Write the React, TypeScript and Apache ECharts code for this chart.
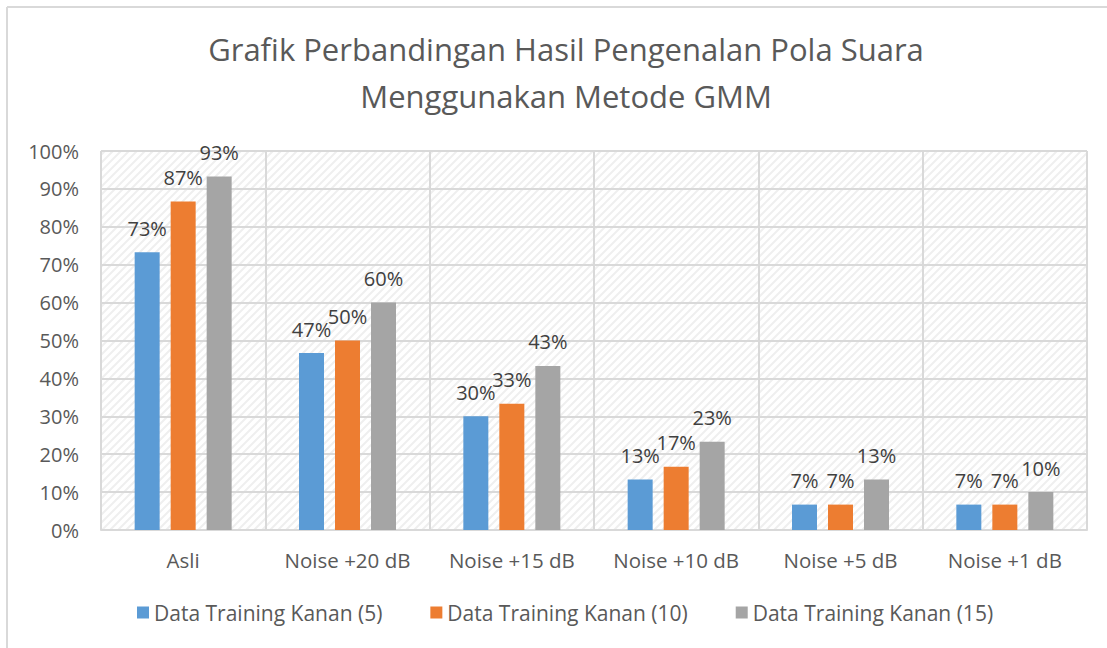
import React, { useEffect, useRef } from "react";
import * as echarts from "echarts";

const categories = ["Asli", "Noise +20 dB", "Noise +15 dB", "Noise +10 dB", "Noise +5 dB", "Noise +1 dB"];
const seriesNames = ["Data Training Kanan (5)", "Data Training Kanan (10)", "Data Training Kanan (15)"];
const kanan5 = [73.3, 46.7, 30, 13.3, 6.7, 6.7];
const kanan10 = [86.7, 50, 33.3, 16.7, 6.7, 6.7];
const kanan15 = [93.3, 60, 43.3, 23.3, 13.3, 10];
const colors = ["#5B9BD5", "#ED7D31", "#A5A5A5"];
const titleText = "Grafik Perbandingan Hasil Pengenalan Pola Suara\nMenggunakan Metode GMM";

function makePattern(): HTMLCanvasElement {
  const c = document.createElement("canvas");
  c.width = 8;
  c.height = 8;
  const ctx = c.getContext("2d")!;
  ctx.fillStyle = "#ffffff";
  ctx.fillRect(0, 0, 8, 8);
  ctx.strokeStyle = "#efefef";
  ctx.lineWidth = 2;
  ctx.beginPath();
  ctx.moveTo(0, 8);
  ctx.lineTo(8, 0);
  ctx.moveTo(-2, 2);
  ctx.lineTo(2, -2);
  ctx.moveTo(6, 10);
  ctx.lineTo(10, 6);
  ctx.stroke();
  return c;
}

export default function App() {
  const ref = useRef<HTMLDivElement>(null);
  useEffect(() => {
    document.body.style.margin = "0";
    const chart = echarts.init(ref.current!, undefined, { renderer: "svg" });
    const font = "'Open Sans', sans-serif";
    const data = [kanan5, kanan10, kanan15];
    chart.setOption({
      animation: false,
      backgroundColor: "#ffffff",
      textStyle: { fontFamily: font },
      title: {
        text: titleText,
        left: 561,
        textAlign: "center",
        top: 20,
        textStyle: { fontSize: 31, fontWeight: "normal", color: "#595959", lineHeight: 47, fontFamily: font, align: "center" },
      },
      legend: {
        data: seriesNames,
        left: 132,
        top: 597,
        icon: "rect",
        itemWidth: 12,
        itemHeight: 12,
        itemGap: 48,
        textStyle: { fontSize: 21, color: "#595959", fontFamily: font },
      },
      grid: {
        left: 101,
        right: 20,
        top: 151,
        bottom: 118,
        show: true,
        borderWidth: 0,
        backgroundColor: { image: makePattern(), repeat: "repeat" },
      },
      xAxis: {
        type: "category",
        data: categories,
        axisLine: { lineStyle: { color: "#d9d9d9", width: 2 } },
        axisTick: { show: false },
        axisLabel: { fontSize: 20.5, color: "#595959", margin: 19, fontFamily: font },
        splitLine: { show: true, lineStyle: { color: "#d9d9d9", width: 2 } },
      },
      yAxis: {
        type: "value",
        min: 0,
        max: 100,
        interval: 10,
        axisLine: { show: false },
        axisTick: { show: false },
        axisLabel: { fontSize: 20, color: "#595959", margin: 22, formatter: "{value}%", fontFamily: font },
        splitLine: { lineStyle: { color: "#d9d9d9", width: 2 } },
      },
      graphic: [
        { type: "line", shape: { x1: 7, y1: 7, x2: 1107, y2: 7 }, style: { stroke: "#d9d9d9", lineWidth: 2 } },
        { type: "line", shape: { x1: 7, y1: 7, x2: 7, y2: 648 }, style: { stroke: "#d9d9d9", lineWidth: 2 } },
      ],
      series: seriesNames.map((name, i) => ({
        name,
        type: "bar",
        data: data[i],
        barWidth: 25,
        barGap: "44%",
        itemStyle: { color: colors[i] },
        label: {
          show: true,
          position: "top",
          distance: 14,
          fontSize: 20,
          color: "#404040",
          fontFamily: font,
          formatter: (p: any) => Math.round(p.value) + "%",
        },
      })),
    });
    return () => chart.dispose();
  }, []);
  return <div ref={ref} style={{ width: 1107, height: 648, position: "absolute", left: 0, top: 0 }} />;
}
